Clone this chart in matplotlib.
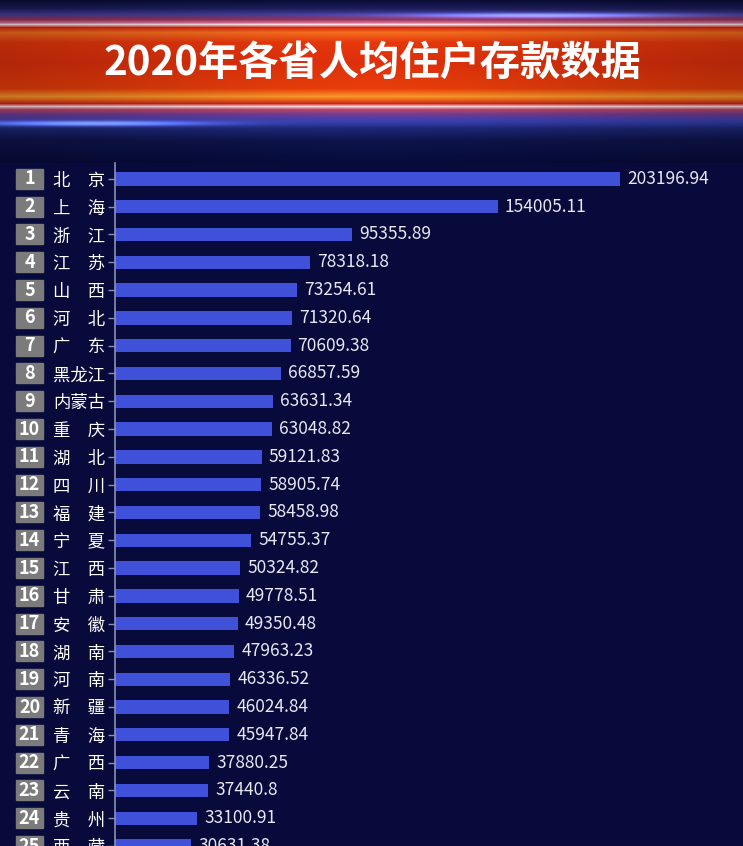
#IMPORT LIBRARY
import numpy as np
import matplotlib
matplotlib.use('Agg')
import matplotlib.pyplot as plt
import matplotlib.transforms as mtransforms
from matplotlib.patches import Rectangle

plt.rcParams['font.family'] = ['Noto Sans CJK SC', 'DejaVu Sans']

#-----------------
# DATA
#-----------------
title = '2020年各省人均住户存款数据'
provinces = ['北京', '上海', '浙江', '江苏', '山西', '河北', '广东', '黑龙江', '内蒙古',
             '重庆', '湖北', '四川', '福建', '宁夏', '江西', '甘肃', '安徽', '湖南',
             '河南', '新疆', '青海', '广西', '云南', '贵州', '西藏']
deposits = [203196.94, 154005.11, 95355.89, 78318.18, 73254.61, 71320.64, 70609.38,
            66857.59, 63631.34, 63048.82, 59121.83, 58905.74, 58458.98, 54755.37,
            50324.82, 49778.51, 49350.48, 47963.23, 46336.52, 46024.84, 45947.84,
            37880.25, 37440.8, 33100.91, 30631.38]
ranks = list(range(1, len(provinces) + 1))

#-----------------
# COLORS
#-----------------
bg = '#070a3a'
bar_color = '#3f50d9'
box_color = '#7b7b7b'
axis_color = '#8a90b8'

W, H = 743, 846
fig = plt.figure(figsize=(W / 100, H / 100), dpi=100, facecolor=bg)

#-----------------
# HEADER BANNER (background glow)
#-----------------
head_h = 163
stops_y = [0, 8, 14, 19, 22, 24, 27, 32, 42, 62, 88, 96, 99, 103, 106, 109, 114, 121, 128, 140, 163]
stops_c = [(10, 14, 55), (30, 30, 95), (70, 60, 150), (150, 50, 90), (210, 110, 140),
           (245, 225, 235), (215, 40, 15), (245, 110, 30), (230, 55, 12), (222, 48, 12),
           (232, 62, 10), (250, 150, 40), (240, 105, 30), (205, 40, 25), (250, 215, 225),
           (190, 70, 100), (110, 60, 150), (55, 65, 180), (30, 40, 120), (14, 20, 75),
           (7, 10, 58)]
ys = np.arange(head_h)
col = np.array([np.interp(ys, stops_y, [c[k] for c in stops_c]) for k in range(3)]).T / 255.0
xs = np.linspace(-1, 1, W)
shade = 0.76 + 0.24 * np.exp(-(xs / 0.75) ** 2)
img = col[:, None, :] * shade[None, :, None]
# blue glow streaks
glow_top = np.exp(-((ys - 15) / 2.5) ** 2)[:, None] * np.exp(-((xs - 0.45) / 0.35) ** 2)[None, :]
glow_bot = np.exp(-((ys - 123) / 2.5) ** 2)[:, None] * np.exp(-((xs + 0.75) / 0.3) ** 2)[None, :]
for g in (glow_top, glow_bot):
    img = img + g[:, :, None] * np.array([0.35, 0.45, 0.75])[None, None, :]
img = np.clip(img, 0, 1)

hax = fig.add_axes([0, 1 - head_h / H, 1, head_h / H])
hax.imshow(img, aspect='auto', interpolation='bilinear')
hax.axis('off')

fig.text(372 / W, 1 - 63 / H, title, color='white', fontsize=29, fontweight='bold',
         fontstyle='italic', ha='center', va='center')

#-----------------
# BAR CHART
#-----------------
top = 163
row0 = 179
step = 28
ax = fig.add_axes([115 / W, 0, 1 - 115 / W, (H - top) / H])
ax.set_facecolor(bg)

pos = np.arange(len(provinces))
ax.barh(pos, deposits, height=0.48, color=bar_color)
ax.set_ylim((H - row0) / step, -(row0 - top) / step)
ax.set_xlim(0, (W - 115) / 0.002487)

for p, v in zip(pos, deposits):
    label = ('%.2f' % v).rstrip('0').rstrip('.')
    ax.annotate(label, (v, p), xytext=(5, 0), textcoords='offset points',
                va='center', ha='left', color='#e6e8f2', fontsize=12.5)

# province names, two-character names spread out
names = [n[0] + '\u3000' + n[1] if len(n) == 2 else n for n in provinces]
ax.set_yticks(pos)
ax.set_yticklabels(names, color='white', fontsize=12.5)
ax.tick_params(axis='y', length=5, width=1, color=axis_color, pad=2)
ax.set_xticks([])

for s in ['top', 'right', 'bottom']:
    ax.spines[s].set_visible(False)
ax.spines['left'].set_color(axis_color)
ax.spines['left'].set_linewidth(1.2)

# rank boxes
trans = mtransforms.blended_transform_factory(fig.transFigure, ax.transData)
for p, r in zip(pos, ranks):
    ax.add_patch(Rectangle((16 / W, p - 0.36), 27 / W, 0.72, transform=trans,
                           color=box_color, clip_on=False))
    ax.text(29.5 / W, p, str(r), transform=trans, color='white', fontsize=13,
            fontweight='bold', ha='center', va='center', clip_on=False)

plt.savefig('out.png', dpi=100, facecolor=bg)
